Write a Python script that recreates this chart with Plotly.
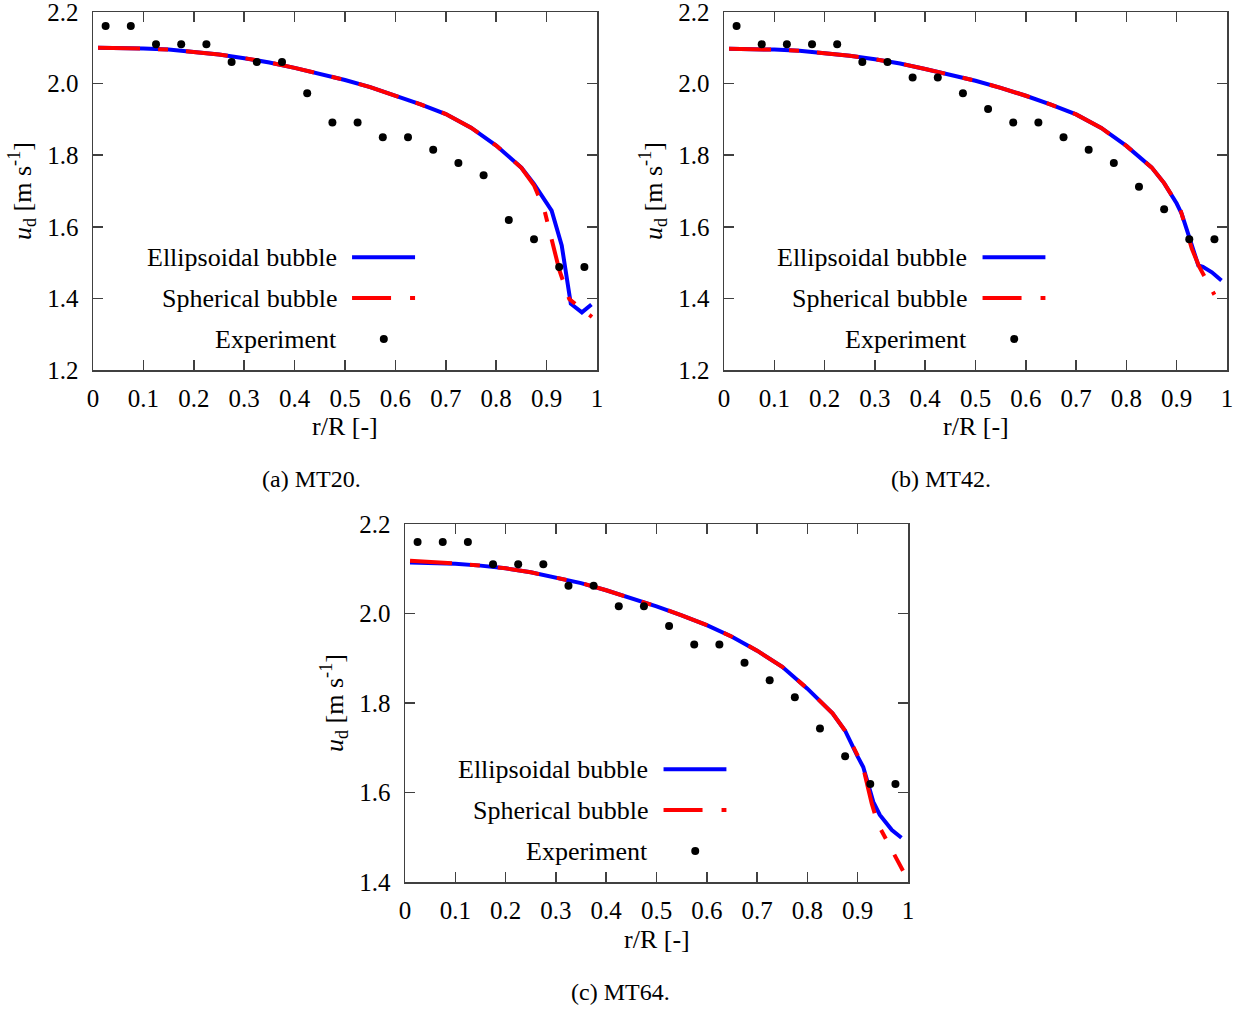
import plotly.graph_objects as go

# ---------------- data ----------------
r_exp = [0.025, 0.075, 0.125, 0.175, 0.225, 0.275, 0.325, 0.375, 0.425, 0.475,
         0.525, 0.575, 0.625, 0.675, 0.725, 0.775, 0.825, 0.875, 0.925, 0.975]

exp_mt20 = [2.161, 2.161, 2.110, 2.110, 2.110, 2.060, 2.060, 2.060, 1.973, 1.891,
            1.891, 1.850, 1.850, 1.815, 1.778, 1.744, 1.619, 1.565, 1.488, 1.488]
exp_mt42 = [2.161, 2.110, 2.110, 2.110, 2.110, 2.060, 2.060, 2.017, 2.017, 1.973,
            1.929, 1.891, 1.891, 1.850, 1.815, 1.778, 1.712, 1.649, 1.565, 1.565]
exp_mt64 = [2.160, 2.160, 2.160, 2.110, 2.110, 2.110, 2.062, 2.062, 2.016, 2.016,
            1.972, 1.931, 1.931, 1.890, 1.851, 1.813, 1.743, 1.681, 1.619, 1.619]

r_core = [0.01, 0.05, 0.10, 0.15, 0.20, 0.25, 0.30, 0.35, 0.40, 0.45, 0.50,
          0.55, 0.60, 0.65, 0.70, 0.75, 0.80, 0.85, 0.875]

# MT20
r_ell_mt20 = r_core + [0.90, 0.91, 0.93, 0.948, 0.97, 0.989]
ud_ell_mt20 = [2.100, 2.100, 2.098, 2.095, 2.089, 2.081, 2.071, 2.059, 2.044, 2.028, 2.010,
               1.990, 1.967, 1.942, 1.915, 1.877, 1.827, 1.765, 1.720,
               1.665, 1.645, 1.548, 1.385, 1.361, 1.383]
r_sph_mt20 = r_core + [0.895, 0.925, 0.945, 0.99]
ud_sph_mt20 = [2.100, 2.100, 2.098, 2.095, 2.089, 2.081, 2.071, 2.059, 2.044, 2.028, 2.010,
               1.990, 1.967, 1.942, 1.915, 1.877, 1.827, 1.765, 1.716,
               1.650, 1.480, 1.398, 1.348]

# MT42
r_ell_mt42 = r_core + [0.90, 0.91, 0.926, 0.943, 0.952, 0.97, 0.989]
ud_ell_mt42 = [2.097, 2.097, 2.095, 2.092, 2.086, 2.078, 2.068, 2.056, 2.041, 2.025, 2.008,
               1.988, 1.966, 1.941, 1.914, 1.876, 1.826, 1.766, 1.722,
               1.665, 1.636, 1.566, 1.492, 1.488, 1.473, 1.450]
r_sph_mt42 = r_core + [0.907, 0.93, 0.945, 0.975]
ud_sph_mt42 = [2.097, 2.097, 2.095, 2.092, 2.086, 2.078, 2.068, 2.056, 2.041, 2.025, 2.008,
               1.988, 1.966, 1.941, 1.914, 1.876, 1.826, 1.766, 1.722,
               1.650, 1.539, 1.488, 1.410]

# MT64
r_ell_mt64 = r_core + [0.90, 0.911, 0.931, 0.944, 0.968, 0.987]
ud_ell_mt64 = [2.114, 2.113, 2.111, 2.107, 2.101, 2.092, 2.081, 2.068, 2.052, 2.035, 2.016,
               1.996, 1.974, 1.948, 1.917, 1.881, 1.832, 1.777, 1.738,
               1.680, 1.657, 1.579, 1.550, 1.516, 1.499]
r_sph_mt64 = r_core + [0.91, 0.928, 0.94, 0.99]
ud_sph_mt64 = [2.118, 2.116, 2.112, 2.107, 2.101, 2.092, 2.081, 2.068, 2.052, 2.035, 2.016,
               1.996, 1.974, 1.948, 1.917, 1.881, 1.832, 1.777, 1.738,
               1.660, 1.575, 1.530, 1.425]

x_ticks = [0, 0.1, 0.2, 0.3, 0.4, 0.5, 0.6, 0.7, 0.8, 0.9, 1]
x_tick_text = ["0", "0.1", "0.2", "0.3", "0.4", "0.5", "0.6", "0.7", "0.8", "0.9", "1"]
y_ticks_ab = [1.2, 1.4, 1.6, 1.8, 2.0, 2.2]
y_ticks_c = [1.4, 1.6, 1.8, 2.0, 2.2]

captions = ["(a) MT20.", "(b) MT42.", "(c) MT64."]
legend_labels = ["Ellipsoidal bubble", "Spherical bubble", "Experiment"]

# ---------------- layout geometry (pixels in the page) ----------------
W, H = 1250, 1010
# (left, right, top, bottom) of each plot frame
frames = [(93, 597, 12, 370), (724, 1227, 12, 370), (405, 908, 524, 882)]
y_ranges = [[1.2, 2.2], [1.2, 2.2], [1.4, 2.2]]
y_tick_sets = [y_ticks_ab, y_ticks_ab, y_ticks_c]
caption_pos = [(311, 479), (941, 479), (620, 992)]


def px(x):
    return x / W


def py(y):
    return 1 - y / H


panels = [
    (r_ell_mt20, ud_ell_mt20, r_sph_mt20, ud_sph_mt20, exp_mt20),
    (r_ell_mt42, ud_ell_mt42, r_sph_mt42, ud_sph_mt42, exp_mt42),
    (r_ell_mt64, ud_ell_mt64, r_sph_mt64, ud_sph_mt64, exp_mt64),
]

BLUE = "#0000ff"
RED = "#ff0000"
DASH_CURVE = "42px,18px,10px,18px"
DASH_KEY = "39px,19px,5px,19px"
TICK_FONT = dict(family="Liberation Serif", size=25, color="black")
TEXT_FONT = dict(family="Liberation Serif", size=26, color="black")
FRAME = "#404040"

fig = go.Figure()
annotations = []
shapes = []

for i, (re_, ue_, rs_, us_, ex_) in enumerate(panels):
    suf = "" if i == 0 else str(i + 1)
    xa, ya = "x" + suf, "y" + suf
    fig.add_trace(go.Scatter(x=re_, y=ue_, mode="lines", xaxis=xa, yaxis=ya,
                             line=dict(color=BLUE, width=4), showlegend=False,
                             name=legend_labels[0]))
    fig.add_trace(go.Scatter(x=rs_, y=us_, mode="lines", xaxis=xa, yaxis=ya,
                             line=dict(color=RED, width=4, dash=DASH_CURVE),
                             showlegend=False, name=legend_labels[1]))
    fig.add_trace(go.Scatter(x=r_exp, y=ex_, mode="markers", xaxis=xa, yaxis=ya,
                             marker=dict(color="black", size=8), showlegend=False,
                             name=legend_labels[2]))

    l, r, t, b = frames[i]
    pw, ph = r - l, b - t
    axis_common = dict(showline=True, linecolor=FRAME, linewidth=1.5, mirror="ticks",
                       ticks="inside", ticklen=10, tickwidth=1.5, tickcolor=FRAME,
                       showgrid=False, zeroline=False, tickfont=TICK_FONT,
                       automargin=False, ticklabeloverflow="allow")
    fig.layout["xaxis" + suf] = dict(
        domain=[px(l), px(r)], anchor=ya, range=[0, 1],
        tickvals=x_ticks, ticktext=x_tick_text, ticklabelstandoff=5, **axis_common)
    fig.layout["yaxis" + suf] = dict(
        domain=[py(b), py(t)], anchor=xa, range=y_ranges[i],
        tickvals=y_tick_sets[i], tickformat=".1f", ticklabelstandoff=8, **axis_common)

    # axis titles
    annotations.append(dict(text="r/R [-]", xref="paper", yref="paper",
                            x=px((l + r) / 2), y=py(b + 57),
                            xanchor="center", yanchor="middle", showarrow=False,
                            font=TEXT_FONT))
    annotations.append(dict(text="<i>u</i><sub>d</sub> [m s<sup>-1</sup>]",
                            xref="paper", yref="paper",
                            x=px(l - 71), y=py((t + b) / 2), textangle=-90,
                            xanchor="center", yanchor="middle", showarrow=False,
                            font=TEXT_FONT))
    # caption
    cx, cy = caption_pos[i]
    annotations.append(dict(text=captions[i], xref="paper", yref="paper",
                            x=px(cx), y=py(cy), xanchor="center", yanchor="middle",
                            showarrow=False,
                            font=dict(family="Liberation Serif", size=24, color="black")))

    # gnuplot-style key (text on the left, sample on the right)
    xd, yd = xa + " domain", ya + " domain"
    rows = [0.315, 0.201, 0.0865]
    for k, lab in enumerate(legend_labels):
        annotations.append(dict(text=lab, xref=xd, yref=yd, x=0.488, y=rows[k],
                                xanchor="right", yanchor="middle", showarrow=False,
                                font=TEXT_FONT))
    shapes.append(dict(type="line", xref=xd, yref=yd, x0=0.514, x1=0.639,
                       y0=rows[0], y1=rows[0], line=dict(color=BLUE, width=4)))
    shapes.append(dict(type="line", xref=xd, yref=yd, x0=0.514, x1=0.639,
                       y0=rows[1], y1=rows[1], line=dict(color=RED, width=4, dash=DASH_KEY)))
    rx, ry = 4 / pw, 4 / ph
    shapes.append(dict(type="circle", xref=xd, yref=yd, x0=0.577 - rx, x1=0.577 + rx,
                       y0=rows[2] - ry, y1=rows[2] + ry,
                       fillcolor="black", line=dict(color="black", width=0)))

fig.update_layout(width=W, height=H, margin=dict(l=0, r=0, t=0, b=0),
                  paper_bgcolor="white", plot_bgcolor="white",
                  annotations=annotations, shapes=shapes, showlegend=False)

# the page body gets no margin so that the figure fills the window exactly
fig.write_html("out.html",
               config={"displayModeBar": False, "staticPlot": True},
               post_script="document.body.style.margin='0px';"
                           "document.body.style.overflow='hidden';")
